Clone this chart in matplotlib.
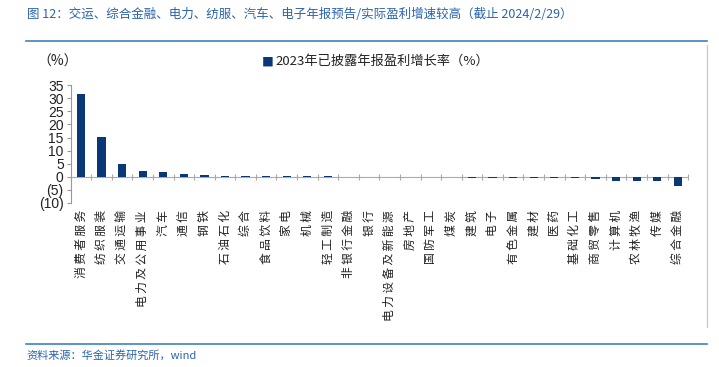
import matplotlib.pyplot as plt
import matplotlib.transforms as mtransforms
import numpy as np

plt.rcParams['font.family'] = ['Noto Sans CJK SC', 'DejaVu Sans']

industries = ['消费者服务', '纺织服装', '交通运输', '电力及公用事业', '汽车', '通信', '钢铁',
              '石油石化', '综合', '食品饮料', '家电', '机械', '轻工制造', '非银行金融', '银行',
              '电力设备及新能源', '房地产', '国防军工', '煤炭', '建筑', '电子', '有色金属',
              '建材', '医药', '基础化工', '商贸零售', '计算机', '农林牧渔', '传媒', '综合金融']
growth = [31.5, 15.1, 4.9, 2.3, 1.7, 1.0, 0.6,
          0.3, 0.3, 0.2, 0.2, 0.2, 0.15, 0.1, 0.05,
          0.0, -0.05, -0.1, -0.2, -0.3, -0.4, -0.4,
          -0.5, -0.5, -0.6, -0.8, -1.5, -1.6, -1.7, -3.4]
yticks = [-10, -5, 0, 5, 10, 15, 20, 25, 30, 35]
ytick_labels = ['(10)', '(5)', '0', '5', '10', '15', '20', '25', '30', '35']

bar_color = '#0a3877'
blue = '#2a63ad'

fig = plt.figure(figsize=(7.19, 3.67), dpi=100)
ax = fig.add_axes([0.0983, 0.447, 0.8587, 0.321])

x = np.arange(len(industries))
ax.bar(x, growth, width=0.4, color=bar_color, zorder=3)
ax.set_xlim(-0.5, len(industries) - 0.5)
ax.set_ylim(-10, 35)

ax.set_yticks(yticks)
ax.set_yticklabels(ytick_labels, fontsize=10, family='Liberation Sans', color='#222222')
ax.tick_params(axis='y', direction='out', length=3, color='#999999', pad=2)

for s in ['top', 'right']:
    ax.spines[s].set_visible(False)
ax.spines['left'].set_color('#999999')
ax.spines['bottom'].set_color('#aaaaaa')
ax.spines['bottom'].set_position(('data', 0))
ax.set_xticks(np.arange(len(industries) + 1) - 0.5)
ax.set_xticklabels([])
ax.tick_params(axis='x', direction='inout', length=4, color='#aaaaaa')

# rotated labels sitting below the plot, with a little letter spacing
trans = mtransforms.blended_transform_factory(ax.transData, ax.transAxes)
for i, name in enumerate(industries):
    ax.text(i, -0.06, '\u2009'.join(name), transform=trans, ha='center', va='top',
            rotation=90, fontsize=8.5, color='#222222')

fig.text(0.052, 0.832, '（%）', fontsize=10, va='center', color='#222222')
fig.text(0.364, 0.832, '■', fontsize=8.5, va='center', color=bar_color)
fig.text(0.383, 0.832, '2023年已披露年报盈利增长率（%）', fontsize=9.5, va='center', color='#222222')

fig.text(0.037, 0.962, '图 12：交运、综合金融、电力、纺服、汽车、电子年报预告/实际盈利增速较高（截止 2024/2/29）',
         fontsize=9, va='center', color=blue)
fig.add_artist(plt.Line2D([0.036, 0.983], [0.888, 0.888], color='#3b82c4', lw=1.2))
fig.add_artist(plt.Line2D([0.983, 0.983], [0.877, 0.11], color='#cccccc', lw=1))
fig.add_artist(plt.Line2D([0.036, 0.983], [0.063, 0.063], color='#3b82c4', lw=1.2))
fig.text(0.037, 0.032, '资料来源：华金证券研究所，wind', fontsize=8, style='italic',
         va='center', color=blue)

fig.savefig('out.png', dpi=100)
